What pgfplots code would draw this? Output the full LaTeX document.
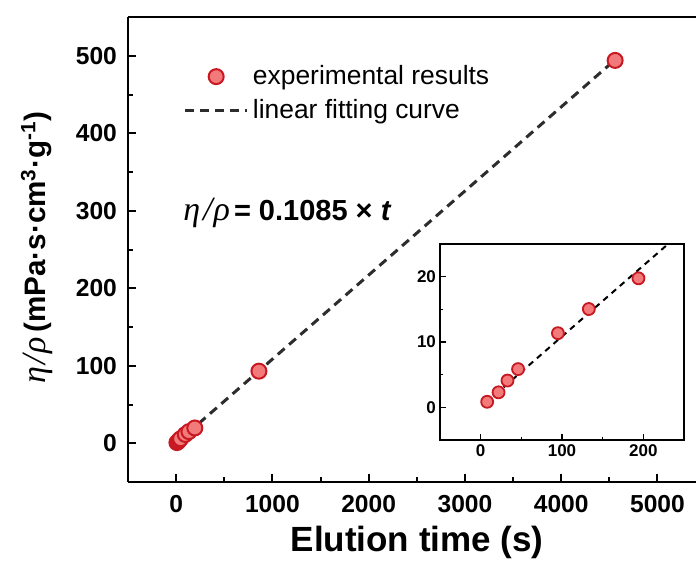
\documentclass[border=0pt]{standalone}
\usepackage{fontspec}
\setmainfont{Liberation Sans}
\newfontfamily\grk{Liberation Serif}
\usepackage{pgfplots}
\pgfplotsset{compat=1.18}
\usetikzlibrary{calc}
\definecolor{mfill}{RGB}{242,122,122}
\definecolor{medge}{RGB}{200,25,35}
\definecolor{lgray}{RGB}{45,45,45}

\pgfplotstableread{
t    y
8    0.85
22   2.3
33   4.1
46   5.85
95   11.35
133  15.05
194  19.75
860  93
4560 494
}\maindata

\pgfplotstableread{
t    y
8    0.85
22   2.3
33   4.1
46   5.85
95   11.35
133  15.05
194  19.75
}\insetdata

\begin{document}
\begin{tikzpicture}
\begin{axis}[name=main, scale only axis, width=284pt, height=232.5pt,
  xmin=-500, xmax=5400, ymin=-50, ymax=550,
  axis x line*=bottom, axis y line*=left,
  axis line style={line width=1.1pt},
  xtick={0,1000,...,5000}, ytick={0,100,...,500},
  minor xtick={500,1500,...,4500}, minor ytick={50,150,...,450},
  tick align=inside, major tick length=4pt, minor tick length=2.5pt,
  major tick style={line width=1pt, black},
  minor tick style={line width=1pt, black},
  /pgf/number format/assume math mode=true,
  /pgf/number format/set thousands separator={},
  ticklabel style={font=\fontsize{12.3}{14}\selectfont\bfseries},
  xticklabel style={yshift=-3pt}, yticklabel style={xshift=-2pt},
  xlabel={Elution time (s)},
  every axis x label/.style={at={(rel axis cs:0.509,-0.131)}, anchor=center, font=\fontsize{17.5}{20}\selectfont\bfseries},
  ylabel={{\mdseries\grk\itshape\fontsize{17}{18}\selectfont η\kern1pt/\kern0.5pt ρ}\,(mPa·s·cm\textsuperscript{3}·g\textsuperscript{-1})},
  every axis y label/.style={at={(rel axis cs:-0.16,0.505)}, anchor=center, rotate=90, font=\fontsize{14.8}{17}\selectfont\bfseries},
  legend style={at={(rel axis cs:0.0968,0.905)}, anchor=north west, draw=none, fill=none, inner sep=0pt, row sep=2pt, font=\fontsize{13.2}{15}\selectfont},
  legend cell align=left,
  legend image code/.code={\draw[mark repeat=2,mark phase=2,#1] plot coordinates {(0cm,0cm) (0.55cm,0cm) (1.1cm,0cm)};},
  after end axis/.code={\draw[line width=1.1pt] (rel axis cs:0,1) -- (rel axis cs:1,1);},
]
\addplot[only marks, mark=*, mark size=3.75pt, mark options={fill=mfill, draw=medge, line width=1pt}] table[x=t,y=y] {\maindata};
\addlegendentry{experimental results}
\addplot[lgray, line width=1.5pt, dash pattern=on 4.5pt off 3pt] coordinates {(0,0) (4560,494.76)};
\addlegendentry{linear fitting curve}
\node[anchor=west, font=\fontsize{14.5}{16}\selectfont, inner sep=0pt] at (rel axis cs:0.0968,0.578) {{\grk\itshape\fontsize{17}{18}\selectfont η\kern1.5pt/\kern0.5pt ρ}\kern2pt\textbf{= 0.1085 × \textit{t}}};
\end{axis}

\begin{axis}[name=inset, at={($(main.south west)+(156pt,21pt)$)}, anchor=south west,
  scale only axis, width=122pt, height=98pt,
  xmin=-50, xmax=250, ymin=-5, ymax=25,
  xtick={0,100,200}, minor xtick={50,150}, ytick={0,10,20}, minor ytick={5,15},
  tick pos=left, tick align=inside, major tick length=3pt, minor tick length=1.5pt,
  axis line style={line width=0.8pt},
  major tick style={line width=0.75pt, black},
  minor tick style={line width=0.75pt, black},
  /pgf/number format/assume math mode=true,
  ticklabel style={font=\fontsize{8.5}{10}\selectfont\bfseries},
  xticklabel style={yshift=1pt}, yticklabel style={xshift=1.5pt},
]
\addplot[only marks, mark=*, mark size=3pt, mark options={fill=mfill, draw=medge, line width=0.9pt}] table[x=t,y=y] {\insetdata};
\addplot[black, line width=1pt, dash pattern=on 3pt off 2.5pt] coordinates {(8,0.868) (240,26.04)};
\end{axis}

\pgfresetboundingbox
\path (main.south west) ++(-64pt,-40.5pt) rectangle ++(348pt,281.5pt);
\end{tikzpicture}
\end{document}
